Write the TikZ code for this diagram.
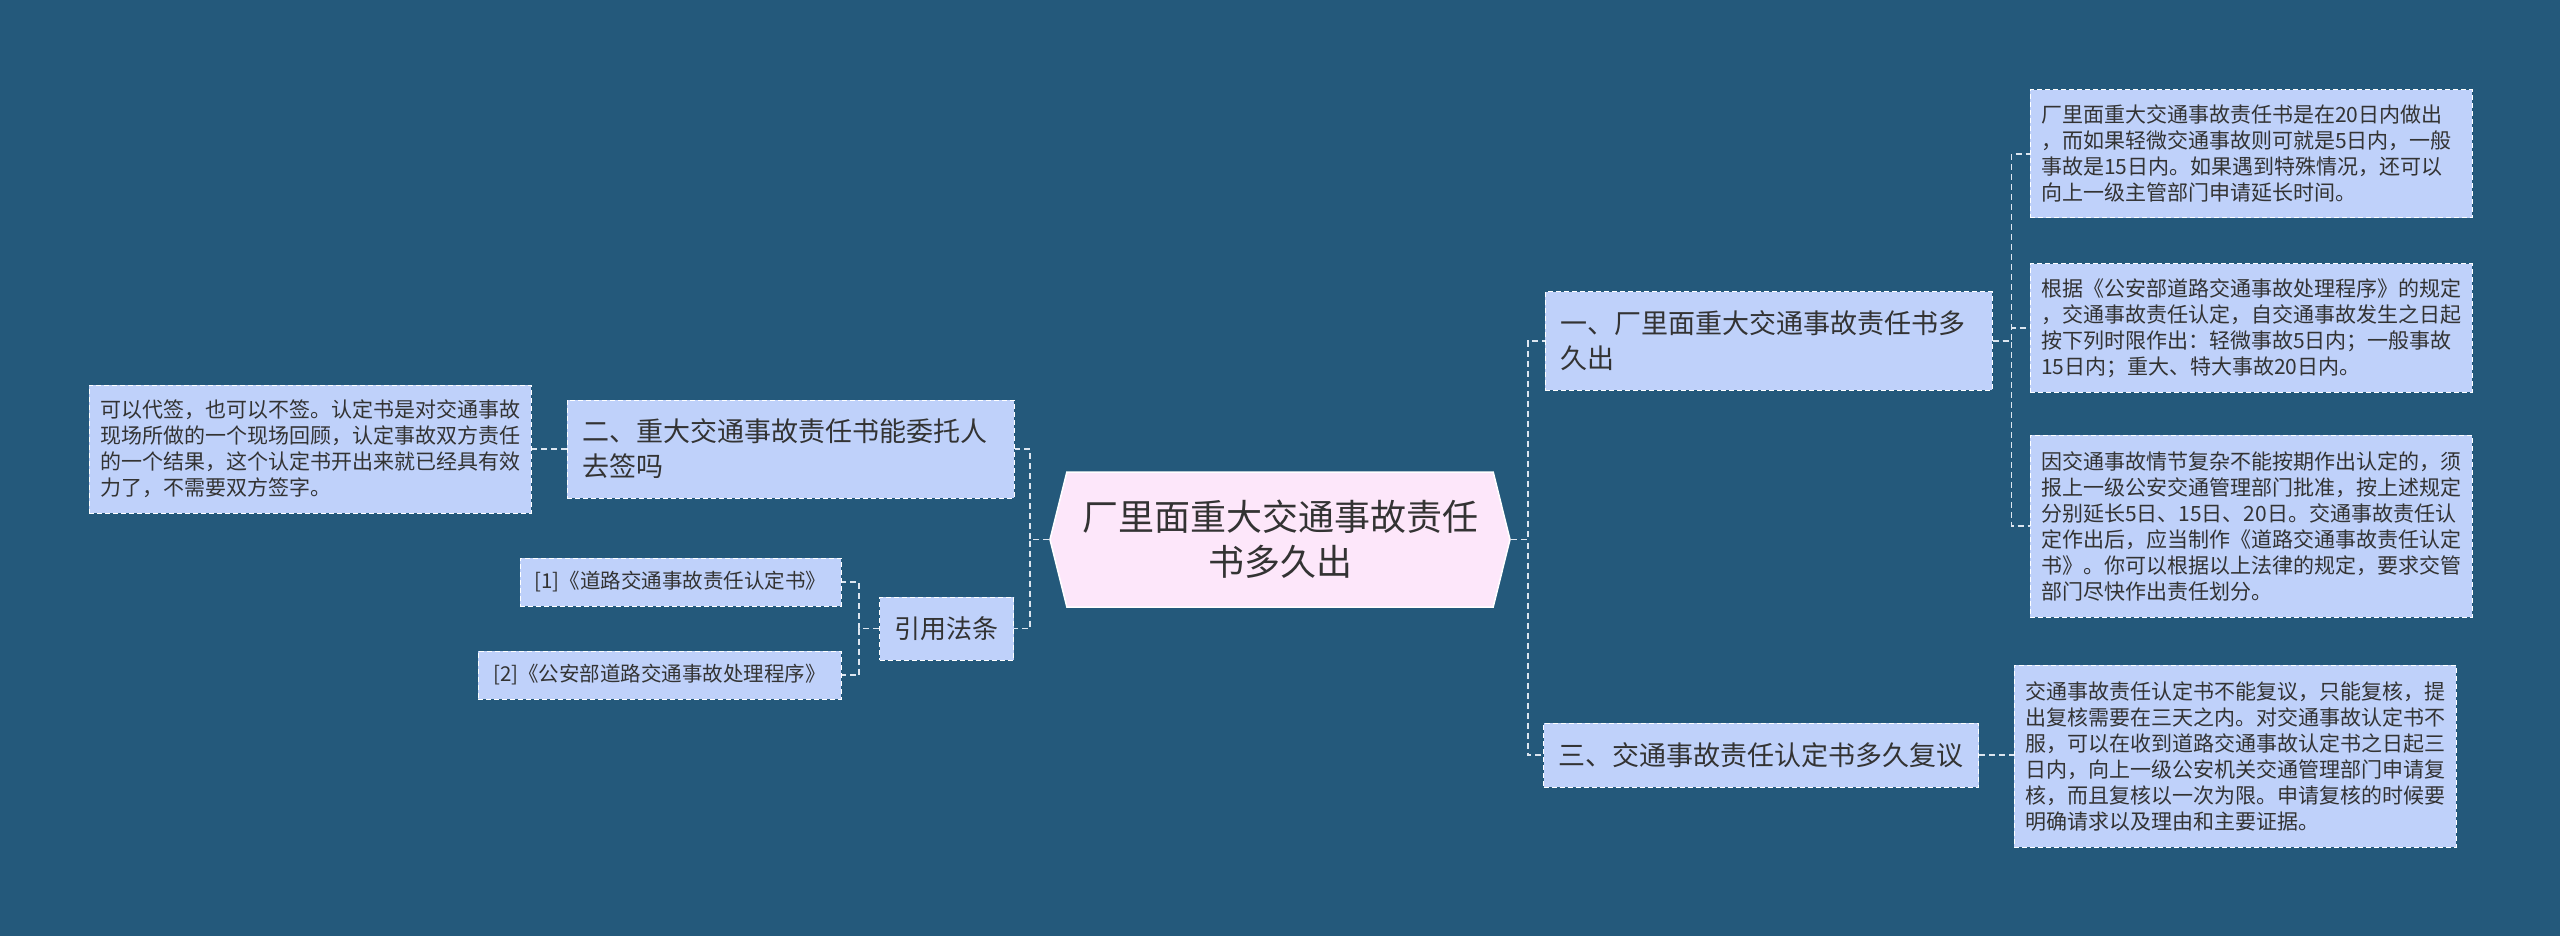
\documentclass[tikz,border=0pt]{standalone}
\usepackage{fontspec}
\newfontfamily\cjk{Noto Sans CJK SC}
\usetikzlibrary{shapes.symbols}
\definecolor{fondo}{HTML}{24597B}
\definecolor{azulnodo}{HTML}{BFD1FA}
\definecolor{rosanodo}{HTML}{FDE7FA}
\definecolor{texto}{HTML}{333333}
\definecolor{linea}{HTML}{DDE6F0}
\tikzset{
  caja/.style={draw=white, line width=0.5pt, dash pattern=on 2.5pt off 1.5pt,
    fill=azulnodo, text=texto, inner ysep=0pt},
  hoja/.style={caja, font=\cjk\fontsize{10.5}{13}\selectfont, align=left,
    text width=210pt, inner xsep=5.5pt},
  rama/.style={caja, font=\cjk\fontsize{13.5}{17.5}\selectfont, align=left,
    inner xsep=7.5pt},
  cita/.style={caja, font=\cjk\fontsize{10.25}{13}\selectfont, inner xsep=5pt,
    minimum height=24pt},
  enlace/.style={linea, line width=0.75pt, dash pattern=on 3pt off 2pt},
}
\begin{document}
\begin{tikzpicture}[x=0.5pt, y=-0.5pt]
    \useasboundingbox[fill=fondo] (0,0) rectangle (2560,936);

    % raiz
    \node[signal, signal to=west and east, signal pointer angle=152,
      fill=rosanodo, draw=white, line width=0.75pt, minimum width=230pt,
      minimum height=67.5pt, inner sep=0pt, text=texto, align=center,
      font=\cjk\fontsize{18}{22.5}\selectfont] (raiz) at (1280,539.5)
      {厂里面重大交通事故责任\\书多久出};

    % ramas
    \node[rama, text width=208.5pt, minimum height=49pt] (r1) at (1768.5,341)
      {一、厂里面重大交通事故责任书多\\久出};
    \node[rama, minimum height=32pt] (r3) at (1761,755)
      {三、交通事故责任认定书多久复议};
    \node[rama, text width=208.5pt, minimum height=49pt] (r2) at (790.5,449)
      {二、重大交通事故责任书能委托人\\去签吗};
    \node[rama, font=\cjk\fontsize{13}{16}\selectfont, inner xsep=7.5pt,
      minimum height=31.5pt] (citas) at (946.5,628.5) {引用法条};

    % hojas
    \node[hoja, minimum height=64pt] (h1) at (2251,154)
      {厂里面重大交通事故责任书是在20日内做出\\，而如果轻微交通事故则可就是5日内，一般\\事故是15日内。如果遇到特殊情况，还可以\\向上一级主管部门申请延长时间。};
    \node[hoja, minimum height=64pt] (h2) at (2251,328)
      {根据《公安部道路交通事故处理程序》的规定\\，交通事故责任认定，自交通事故发生之日起\\按下列时限作出：轻微事故5日内；一般事故\\15日内；重大、特大事故20日内。};
    \node[hoja, minimum height=91pt] (h3) at (2251,526)
      {因交通事故情节复杂不能按期作出认定的，须\\报上一级公安交通管理部门批准，按上述规定\\分别延长5日、15日、20日。交通事故责任认\\定作出后，应当制作《道路交通事故责任认定\\书》。你可以根据以上法律的规定，要求交管\\部门尽快作出责任划分。};
    \node[hoja, minimum height=91pt] (h4) at (2235,756)
      {交通事故责任认定书不能复议，只能复核，提\\出复核需要在三天之内。对交通事故认定书不\\服，可以在收到道路交通事故认定书之日起三\\日内，向上一级公安机关交通管理部门申请复\\核，而且复核以一次为限。申请复核的时候要\\明确请求以及理由和主要证据。};
    \node[hoja, minimum height=64pt] (h5) at (310,449)
      {可以代签，也可以不签。认定书是对交通事故\\现场所做的一个现场回顾，认定事故双方责任\\的一个结果，这个认定书开出来就已经具有效\\力了，不需要双方签字。};
    \node[cita, minimum width=160.5pt] (c1) at (680.5,582)
      {[1]《道路交通事故责任认定书》};
    \node[cita, minimum width=181.5pt] (c2) at (659.5,675)
      {[2]《公安部道路交通事故处理程序》};

    % conectores
    \draw[enlace] (raiz.west) -- ++(-19,0) |- (r2.east);
    \draw[enlace] (raiz.west) -- ++(-19,0) |- (citas.east);
    \draw[enlace] (raiz.east) -- ++(17,0) |- (r1.west);
    \draw[enlace] (raiz.east) -- ++(17,0) |- (r3.west);
    \foreach \h in {h1,h2,h3}
      \draw[enlace] (r1.east) -- ++(19,0) |- (\h.west);
    \draw[enlace] (r3.east) -- (r3.east -| h4.west);
    \draw[enlace] (r2.west) -- (h5.east);
    \foreach \c in {c1,c2}
      \draw[enlace] (citas.west) -- ++(-20,0) |- (\c.east);
\end{tikzpicture}
\end{document}
